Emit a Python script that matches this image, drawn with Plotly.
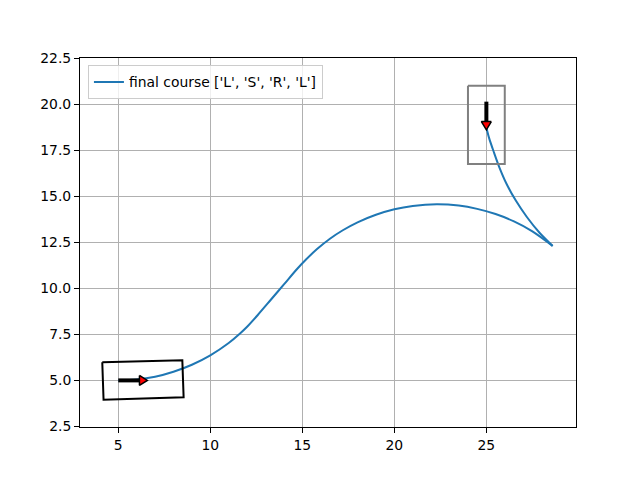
import plotly.graph_objects as go

# path: forward part up to the cusp, then the reverse part
fwd_x = [5.0, 6.0, 7.0, 8.0, 9.0, 10.0, 11.0, 11.6, 12.0, 12.58, 13.3, 14.0, 14.69,
         15.2, 15.8, 16.5, 17.2, 18.0, 19.0, 20.0, 21.0, 22.3, 23.5, 24.5, 25.5,
         26.5, 27.5, 28.6]
fwd_y = [5.0, 5.05, 5.2, 5.47, 5.85, 6.36, 7.03, 7.53, 7.91, 8.55, 9.39, 10.21, 11.02,
         11.56, 12.13, 12.69, 13.15, 13.58, 13.99, 14.29, 14.47, 14.56, 14.49, 14.31, 14.03,
         13.63, 13.09, 12.3]
rev_x = [28.6, 27.9, 27.2, 26.6, 26.1, 25.7, 25.4, 25.15, 25.02]
rev_y = [12.3, 13.0, 13.87, 14.76, 15.66, 16.58, 17.41, 18.15, 18.65]

start_box_x = [4.13, 8.48, 8.55, 4.2, 4.13]
start_box_y = [5.98, 6.09, 4.09, 3.95, 5.98]
goal_box_x = [24.0, 26.0, 26.0, 24.0, 24.0]
goal_box_y = [21.0, 21.0, 16.75, 16.75, 21.0]

# arrows: shaft start, head base, tip
start_arrow_x = [5.0, 6.15, 6.58]
start_arrow_y = [5.0, 5.0, 5.0]
goal_arrow_x = [25.0, 25.0, 25.0]
goal_arrow_y = [20.13, 19.05, 18.6]
head_half = 0.27

legend_label = "final course ['L', 'S', 'R', 'L']"
BLUE = "#1f77b4"

fig = go.Figure()
fig.add_trace(go.Scatter(x=fwd_x, y=fwd_y, mode="lines", line=dict(color=BLUE, width=2, shape="spline", smoothing=0.8),
                         name=legend_label, legendgroup="c"))
fig.add_trace(go.Scatter(x=rev_x, y=rev_y, mode="lines", line=dict(color=BLUE, width=2, shape="spline", smoothing=0.8),
                         showlegend=False, legendgroup="c"))

fig.add_trace(go.Scatter(x=start_box_x, y=start_box_y, mode="lines", line=dict(color="black", width=2),
                         showlegend=False))
fig.add_trace(go.Scatter(x=goal_box_x, y=goal_box_y, mode="lines", line=dict(color="#808080", width=2),
                         showlegend=False))


def add_arrow(ax, ay):
    dx, dy = ax[2] - ax[1], ay[2] - ay[1]
    n = (dx ** 2 + dy ** 2) ** 0.5
    px, py = -dy / n * head_half, dx / n * head_half
    fig.add_trace(go.Scatter(x=ax[:2], y=ay[:2], mode="lines", line=dict(color="black", width=4),
                             showlegend=False))
    fig.add_trace(go.Scatter(x=[ax[1] + px, ax[2], ax[1] - px, ax[1] + px],
                             y=[ay[1] + py, ay[2], ay[1] - py, ay[1] + py],
                             mode="lines", fill="toself", fillcolor="red",
                             line=dict(color="black", width=1.5), showlegend=False))


add_arrow(start_arrow_x, start_arrow_y)
add_arrow(goal_arrow_x, goal_arrow_y)

axis_common = dict(showgrid=True, gridcolor="#b0b0b0", gridwidth=1, zeroline=False,
                   showline=True, mirror=True, linecolor="black", linewidth=1,
                   ticks="outside", ticklen=5, tickcolor="black")
fig.update_xaxes(range=[2.92, 29.87], tickvals=[5, 10, 15, 20, 25], **axis_common)
fig.update_yaxes(range=[2.47, 22.5], tickvals=[2.5, 5, 7.5, 10, 12.5, 15, 17.5, 20, 22.5],
                 tickformat=".1f", **axis_common)
# the page body adds an 8px offset, so the margins are shifted to compensate
fig.update_layout(
    width=640, height=480,
    margin=dict(l=72, r=72, t=50, b=61),
    paper_bgcolor="white", plot_bgcolor="white",
    font=dict(family="DejaVu Sans", size=13.9, color="black"),
    legend=dict(x=0.016, y=0.98, xanchor="left", yanchor="top", bgcolor="rgba(255,255,255,0.8)",
                bordercolor="#cccccc", borderwidth=1, itemwidth=30),
)
fig.write_html("out.html")
